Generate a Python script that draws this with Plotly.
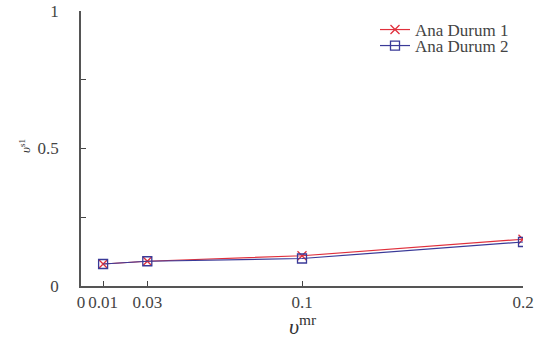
import plotly.graph_objects as go

x_vals = [0.01, 0.03, 0.1, 0.2]
durum1 = [0.08, 0.09, 0.11, 0.17]
durum2 = [0.08, 0.09, 0.10, 0.16]
x_ticks = [0, 0.01, 0.03, 0.1, 0.2]
x_ticktext = ["0", "0.01", "0.03", "0.1", "0.2"]
y_ticks = [0, 0.25, 0.5, 0.75, 1]
y_ticktext = ["0", "", "0.5", "", "1"]

font = "Liberation Serif"
red = "#e0303c"
blue = "#3a3a98"

W, H = 546, 348
l, r, t, b = 81, 23, 11, 62
pw, ph = W - l - r, H - t - b


def px(xp):
    return (xp - l) / pw


def py(yp):
    return (H - b - yp) / ph


fig = go.Figure()
fig.add_trace(go.Scatter(x=x_vals, y=durum1, mode="lines+markers", name="Ana Durum 1",
                         line=dict(color=red, width=1.2), legend="legend",
                         marker=dict(symbol="x-thin", size=9, line=dict(color=red, width=1.3))))
fig.add_trace(go.Scatter(x=x_vals, y=durum2, mode="lines+markers", name="Ana Durum 2",
                         line=dict(color=blue, width=1.2), legend="legend2",
                         marker=dict(symbol="square-open", size=9, color=blue, line=dict(width=1.3))))
leg = dict(xanchor="left", yanchor="middle", bgcolor="rgba(0,0,0,0)",
           font=dict(family=font, size=17, color="#444"), itemwidth=30)
fig.update_layout(
    width=W, height=H, paper_bgcolor="white", plot_bgcolor="white",
    margin=dict(l=l, r=r, t=t, b=b, autoexpand=False),
    font=dict(family=font, size=17, color="#444"),
    legend=dict(x=px(375), y=py(30), **leg),
    legend2=dict(x=px(375), y=py(46), **leg),
    xaxis=dict(range=[0, 0.2], tickvals=x_ticks, ticktext=x_ticktext, ticks="inside", ticklen=5,
               tickcolor="#444", showline=True, linecolor="#555", linewidth=1.5, showgrid=False,
               zeroline=False, ticklabelstandoff=0, automargin=False, ticklabeloverflow="allow"),
    yaxis=dict(range=[0, 1], tickvals=y_ticks, ticktext=y_ticktext, ticks="inside", ticklen=5,
               tickcolor="#444", showline=True, linecolor="#555", linewidth=1.5, showgrid=False,
               zeroline=False, ticklabelstandoff=17, automargin=False, ticklabeloverflow="allow"),
    annotations=[
        dict(text="<i>υ</i><sup>mr</sup>", x=px(302), y=py(325), xref="paper", yref="paper",
             showarrow=False, font=dict(size=22, color="#333"), xanchor="center", yanchor="middle"),
        dict(text="<i>υ</i><sup>s1</sup>", x=px(25), y=py(146), xref="paper", yref="paper",
             textangle=-90, showarrow=False, font=dict(size=13, color="#333"),
             xanchor="center", yanchor="middle"),
    ],
    showlegend=True,
)
fig.write_html("out.html", config={"displayModeBar": False},
               post_script="document.body.style.margin='0';")
